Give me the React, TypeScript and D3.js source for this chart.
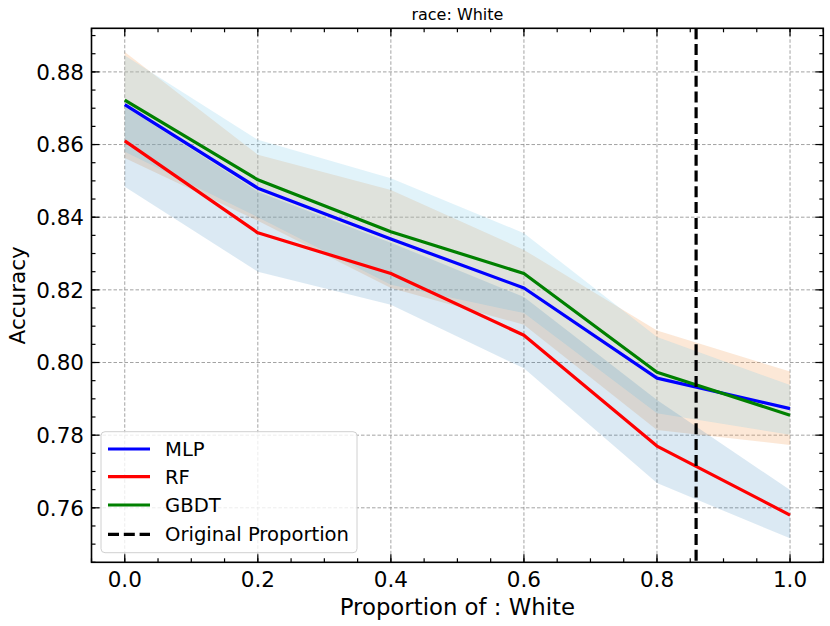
import React from "react";
import * as d3 from "d3";

const xs = [0, 0.2, 0.4, 0.6, 0.8, 1.0];
const mlp = [0.871, 0.848, 0.834, 0.8205, 0.7957, 0.7873];
const rf = [0.861, 0.8357, 0.8245, 0.8075, 0.777, 0.758];
const gbdt = [0.8722, 0.8503, 0.836, 0.8245, 0.7973, 0.7855];
const mlpLo = [0.858, 0.84, 0.8214, 0.8136, 0.786, 0.7801];
const mlpHi = [0.8845, 0.8613, 0.8507, 0.8356, 0.807, 0.7938];
const rfLo = [0.8484, 0.825, 0.8159, 0.7984, 0.7668, 0.7516];
const rfHi = [0.8705, 0.847, 0.833, 0.818, 0.7897, 0.7649];
const gbdtLo = [0.8563, 0.839, 0.8205, 0.8104, 0.7814, 0.7773];
const gbdtHi = [0.8855, 0.8572, 0.8475, 0.831, 0.8088, 0.7975];
const originalProportion = 0.8588;
const xTicks = [0, 0.2, 0.4, 0.6, 0.8, 1.0];
const yTicks = [0.76, 0.78, 0.8, 0.82, 0.84, 0.86, 0.88];
const legendLabels = ["MLP", "RF", "GBDT", "Original Proportion"];

const W = 830;
const H = 626;
const L = 91.5, R = 823.3, T = 28.3, B = 562.3;
const FONT = "DejaVu Sans, sans-serif";

export default function App() {
  const x = d3.scaleLinear().domain([-0.05, 1.05]).range([L, R]);
  const y = d3.scaleLinear().domain([0.745, 0.892]).range([B, T]);

  const area = (lo: number[], hi: number[]) =>
    d3.area<number>()
      .x((_, i) => x(xs[i]))
      .y0((_, i) => y(lo[i]))
      .y1((_, i) => y(hi[i]))(xs.map((_, i) => i)) as string;
  const line = (vals: number[]) =>
    d3.line<number>()
      .x((_, i) => x(xs[i]))
      .y((d) => y(d))(vals) as string;

  const xMinor = d3.range(-0.05, 1.0501, 0.05).filter((v) => v >= -0.05 && v <= 1.05);
  const yMinor = d3.range(0.745, 0.8921, 0.005);

  const series = [
    { name: legendLabels[0], vals: mlp, color: "#0000ff" },
    { name: legendLabels[1], vals: rf, color: "#ff0000" },
    { name: legendLabels[2], vals: gbdt, color: "#008000" },
  ];

  const lgX = 101, lgY = 431.7, lgW = 256, lgH = 121;
  const rowY = [449, 476.7, 505, 534.3];

  return (
    <svg width={W} height={H} style={{ position: "absolute", left: 0, top: 0, background: "#fff" }} fontFamily={FONT}>
      <rect x={0} y={0} width={W} height={H} fill="#fff" />
      <defs>
        <clipPath id="plot">
          <rect x={L} y={T} width={R - L} height={B - T} />
        </clipPath>
      </defs>
      {/* grid */}
      <g stroke="#8c8c8c" strokeWidth={0.8} strokeDasharray="3.5,2">
        {xTicks.map((t) => (
          <line key={"gx" + t} x1={x(t)} x2={x(t)} y1={T} y2={B} />
        ))}
        {yTicks.map((t) => (
          <line key={"gy" + t} x1={L} x2={R} y1={y(t)} y2={y(t)} />
        ))}
      </g>
      {/* bands */}
      <g clipPath="url(#plot)">
        <path d={area(gbdtLo, gbdtHi)} fill="#f4a460" fillOpacity={0.25} />
        <path d={area(mlpLo, mlpHi)} fill="#87ceeb" fillOpacity={0.25} />
        <path d={area(rfLo, rfHi)} fill="#1f77b4" fillOpacity={0.16} />
        {series.map((s) => (
          <path key={s.name} d={line(s.vals)} fill="none" stroke={s.color} strokeWidth={3.2} strokeLinejoin="round" />
        ))}
        <line x1={x(originalProportion)} x2={x(originalProportion)} y1={T} y2={B} stroke="#000" strokeWidth={3.2} strokeDasharray="11,4.8" />
      </g>
      {/* ticks */}
      <g stroke="#000" strokeWidth={1.2}>
        {xTicks.map((t) => (
          <g key={"xt" + t}>
            <line x1={x(t)} x2={x(t)} y1={B} y2={B - 8} />
            <line x1={x(t)} x2={x(t)} y1={T} y2={T + 8} />
          </g>
        ))}
        {xMinor.map((t, i) => (
          <g key={"xm" + i}>
            <line x1={x(t)} x2={x(t)} y1={B} y2={B - 4} />
            <line x1={x(t)} x2={x(t)} y1={T} y2={T + 4} />
          </g>
        ))}
        {yTicks.map((t) => (
          <g key={"yt" + t}>
            <line x1={L} x2={L + 8} y1={y(t)} y2={y(t)} />
            <line x1={R} x2={R - 8} y1={y(t)} y2={y(t)} />
          </g>
        ))}
        {yMinor.map((t, i) => (
          <g key={"ym" + i}>
            <line x1={L} x2={L + 4} y1={y(t)} y2={y(t)} />
            <line x1={R} x2={R - 4} y1={y(t)} y2={y(t)} />
          </g>
        ))}
      </g>
      <rect x={L} y={T} width={R - L} height={B - T} fill="none" stroke="#000" strokeWidth={1.6} />
      {/* tick labels */}
      <g fontSize={21.5} fill="#000">
        {xTicks.map((t) => (
          <text key={"xl" + t} x={x(t)} y={B + 25} textAnchor="middle">{d3.format(".1f")(t)}</text>
        ))}
        {yTicks.map((t) => (
          <text key={"yl" + t} x={L - 7.5} y={y(t)} dy="0.36em" textAnchor="end">{d3.format(".2f")(t)}</text>
        ))}
      </g>
      <text x={(L + R) / 2} y={615} textAnchor="middle" fontSize={22.8}>Proportion of : White</text>
      <text transform={`translate(25,${(T + B) / 2}) rotate(-90)`} textAnchor="middle" fontSize={21.5}>Accuracy</text>
      <text x={(L + R) / 2} y={20} textAnchor="middle" fontSize={16}>race: White</text>
      {/* legend */}
      <rect x={lgX} y={lgY} width={lgW} height={lgH} rx={4} fill="#fff" fillOpacity={0.8} stroke="#d0d0d0" strokeWidth={1} />
      {legendLabels.map((lab, i) => (
        <g key={lab}>
          <line x1={108} x2={150} y1={rowY[i]} y2={rowY[i]}
            stroke={i < 3 ? series[i].color : "#000"} strokeWidth={3.2}
            strokeDasharray={i === 3 ? "11,4.8" : undefined} />
          <text x={165} y={rowY[i]} dy="0.36em" fontSize={19.6}>{lab}</text>
        </g>
      ))}
    </svg>
  );
}
